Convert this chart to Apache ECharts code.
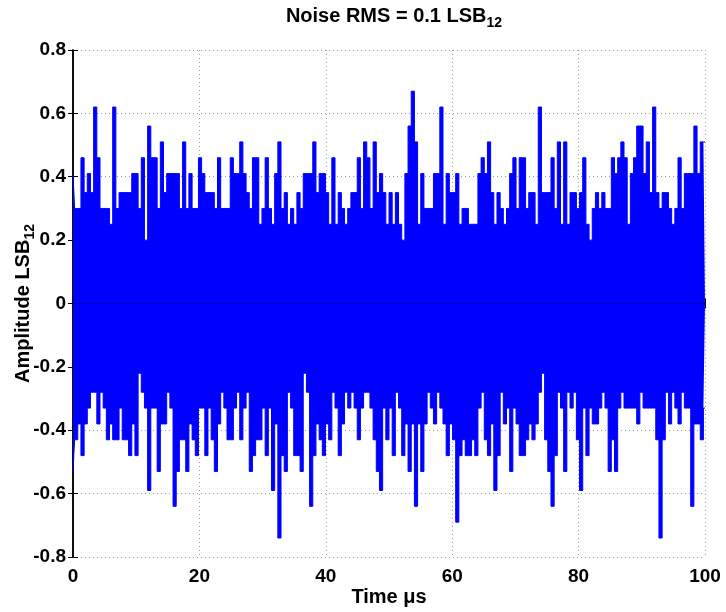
<!DOCTYPE html>
<html>
<head>
<meta charset="utf-8">
<script src="https://cdn.jsdelivr.net/npm/echarts@6/dist/echarts.min.js"></script>
<style>html,body{margin:0;padding:0;background:#fff}#c{width:726px;height:612px}</style>
</head>
<body>
<div id="c"></div>
<script>
// Upper envelope (per 0.5 µs bin) of the noise record, LSB12
const hi = [
0.41,0.30,0.30,0.46,0.35,0.41,0.35,0.62,0.46,0.30, 0.30,0.30,0.25,0.62,0.30,0.35,0.35,0.35,0.35,0.41,
0.41,0.30,0.46,0.20,0.56,0.46,0.46,0.30,0.51,0.35, 0.41,0.41,0.41,0.41,0.30,0.51,0.30,0.41,0.30,0.30,
0.46,0.41,0.35,0.35,0.35,0.30,0.46,0.30,0.30,0.30,
0.46,0.41,0.41,0.51,0.41,0.35,0.30,0.46,0.46,0.25, 0.30,0.46,0.30,0.25,0.41,0.51,0.30,0.35,0.25,0.30,
0.25,0.35,0.30,0.41,0.41,0.41,0.51,0.35,0.41,0.41, 0.35,0.25,0.46,0.25,0.35,0.30,0.25,0.30,0.35,0.35,
0.46,0.30,0.51,0.46,0.30,0.51,0.35,0.41,0.35,0.25,
0.35,0.25,0.35,0.25,0.20,0.41,0.56,0.67,0.51,0.25, 0.41,0.30,0.30,0.30,0.41,0.41,0.62,0.25,0.41,0.35,
0.35,0.41,0.25,0.30,0.30,0.25,0.25,0.25,0.41,0.46, 0.41,0.51,0.35,0.25,0.35,0.30,0.25,0.30,0.41,0.46,
0.30,0.46,0.46,0.30,0.35,0.35,0.25,0.62,0.35,0.35,
0.35,0.46,0.30,0.51,0.25,0.51,0.25,0.35,0.35,0.30, 0.35,0.46,0.25,0.20,0.30,0.35,0.30,0.35,0.30,0.30,
0.46,0.41,0.46,0.51,0.46,0.25,0.41,0.46,0.56,0.56, 0.41,0.51,0.35,0.62,0.35,0.30,0.35,0.35,0.30,0.25,
0.30,0.46,0.30,0.41,0.41,0.41,0.56,0.41,0.51,0.51
];
// Lower envelope (per 0.5 µs bin)
const lo = [
-0.53,-0.43,-0.38,-0.48,-0.38,-0.33,-0.28,-0.28,-0.38,-0.28, -0.33,-0.43,-0.38,-0.43,-0.43,-0.33,-0.43,-0.43,-0.48,-0.38,
-0.48,-0.22,-0.28,-0.33,-0.59,-0.33,-0.33,-0.53,-0.38,-0.38, -0.28,-0.33,-0.64,-0.53,-0.43,-0.43,-0.53,-0.38,-0.43,-0.48,
-0.33,-0.33,-0.48,-0.33,-0.43,-0.53,-0.38,-0.28,-0.33,-0.43,
-0.43,-0.33,-0.28,-0.43,-0.33,-0.28,-0.53,-0.48,-0.43,-0.43, -0.33,-0.48,-0.33,-0.59,-0.38,-0.74,-0.48,-0.53,-0.28,-0.33,
-0.48,-0.48,-0.53,-0.22,-0.28,-0.64,-0.48,-0.38,-0.43,-0.48, -0.38,-0.43,-0.28,-0.33,-0.48,-0.38,-0.28,-0.33,-0.28,-0.33,
-0.43,-0.33,-0.28,-0.28,-0.33,-0.43,-0.53,-0.59,-0.33,-0.43,
-0.33,-0.48,-0.28,-0.33,-0.48,-0.38,-0.53,-0.38,-0.64,-0.38, -0.53,-0.38,-0.28,-0.33,-0.38,-0.28,-0.33,-0.38,-0.48,-0.38,
-0.43,-0.69,-0.48,-0.43,-0.48,-0.48,-0.43,-0.48,-0.33,-0.28, -0.43,-0.48,-0.38,-0.59,-0.48,-0.28,-0.38,-0.33,-0.53,-0.33,
-0.38,-0.48,-0.48,-0.43,-0.38,-0.43,-0.38,-0.28,-0.22,-0.43,
-0.53,-0.64,-0.48,-0.28,-0.33,-0.53,-0.28,-0.33,-0.28,-0.43, -0.59,-0.33,-0.48,-0.33,-0.38,-0.38,-0.33,-0.28,-0.33,-0.53,
-0.43,-0.53,-0.33,-0.28,-0.33,-0.33,-0.33,-0.33,-0.38,-0.28, -0.33,-0.33,-0.33,-0.33,-0.43,-0.74,-0.43,-0.28,-0.38,-0.28,
-0.33,-0.38,-0.28,-0.33,-0.33,-0.64,-0.38,-0.38,-0.43,-0.33
];
const xTicks = [0, 20, 40, 60, 80, 100];
const yTicks = [-0.8, -0.6, -0.4, -0.2, 0, 0.2, 0.4, 0.6, 0.8];
const tStart = 0, tEnd = 100; // µs

const F = '"Liberation Sans", Arial, Helvetica, sans-serif';
const n = hi.length;
const hiPts = hi.map((v, i) => [tStart + i * (tEnd - tStart) / (n - 1), v]);
const loPts = lo.map((v, i) => [tStart + i * (tEnd - tStart) / (n - 1), v]);

const chart = echarts.init(document.getElementById('c'), null, {renderer: 'canvas'});
const axLine = {show: true, lineStyle: {color: '#000', width: 1.5}};
const tick = {show: true, inside: true, length: 5, lineStyle: {color: '#000', width: 1}};
const grid = {show: true, lineStyle: {color: '#9a9a9a', width: 1, type: [1, 3]}};
const lbl = {color: '#000', fontSize: 19, fontWeight: 'bold', fontFamily: F};
const blue = '#0000ff';

const bandSeries = (pts) => ({
  type: 'line', xAxisIndex: 0, yAxisIndex: 0, data: pts, step: 'middle',
  showSymbol: false, symbol: 'none', sampling: null, clip: true,
  lineStyle: {color: blue, width: 1},
  areaStyle: {color: blue, opacity: 1, origin: 0},
  z: 1
});

chart.setOption({
  animation: false,
  backgroundColor: '#fff',
  title: {
    text: '{a|Noise RMS = 0.1 LSB}{b|12}',
    left: 389, top: -3, textAlign: 'center',
    textStyle: {rich: {
      a: {fontSize: 20, fontWeight: 'bold', fontFamily: F, color: '#000'},
      b: {fontSize: 14, fontWeight: 'bold', fontFamily: F, color: '#000', padding: [14, 0, 0, 0]}
    }}
  },
  grid: {left: 73, right: 21, top: 50, bottom: 55, containLabel: false, outerBoundsMode: 'none'},
  xAxis: [{
    type: 'value', min: xTicks[0], max: xTicks[xTicks.length - 1], interval: 20, position: 'bottom',
    axisLine: axLine, axisTick: tick, splitLine: grid,
    axisLabel: Object.assign({margin: 10}, lbl),
    name: 'Time μs', nameLocation: 'middle', nameGap: 30, nameMoveOverlap: false,
    nameTextStyle: {color: '#000', fontSize: 20, fontWeight: 'bold', fontFamily: F}
  }, {
    type: 'value', min: xTicks[0], max: xTicks[xTicks.length - 1], interval: 20, position: 'top',
    axisLine: axLine, axisTick: tick, splitLine: {show: false}, axisLabel: {show: false}
  }],
  yAxis: [{
    type: 'value', min: yTicks[0], max: yTicks[yTicks.length - 1], interval: 0.2, position: 'left',
    axisLine: axLine, axisTick: tick, splitLine: grid,
    axisLabel: Object.assign({margin: 7, formatter: v => Math.abs(v) < 1e-9 ? '0' : v.toFixed(1)}, lbl),
    name: '{a|Amplitude LSB}{b|12}', nameLocation: 'middle', nameRotate: 90, nameGap: 36, nameMoveOverlap: false,
    nameTextStyle: {rich: {
      a: {fontSize: 20, fontWeight: 'bold', fontFamily: F, color: '#000'},
      b: {fontSize: 14, fontWeight: 'bold', fontFamily: F, color: '#000', padding: [14, 0, 0, 0]}
    }}
  }, {
    type: 'value', min: yTicks[0], max: yTicks[yTicks.length - 1], interval: 0.2, position: 'right',
    axisLine: axLine, axisTick: tick, splitLine: {show: false}, axisLabel: {show: false}
  }],
  series: [bandSeries(hiPts), bandSeries(loPts)]
});
</script>
</body>
</html>
